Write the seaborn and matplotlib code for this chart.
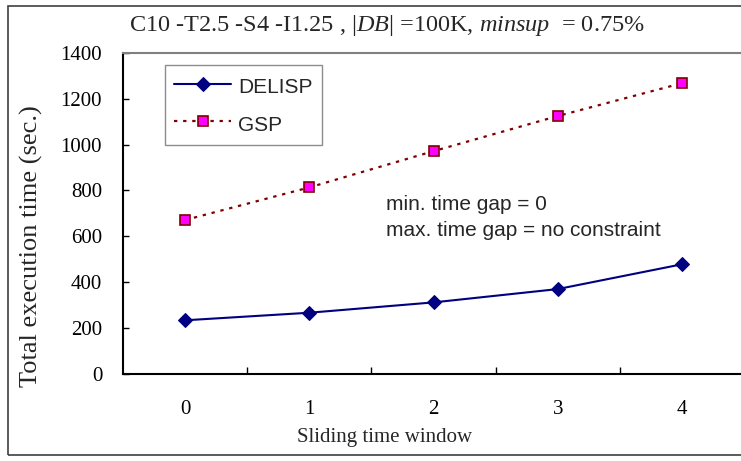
import matplotlib
matplotlib.use("Agg")
import matplotlib.pyplot as plt
from matplotlib.patches import Rectangle
import numpy as np
import pandas as pd
import seaborn as sns

# Execution time (sec.) versus sliding time window size
windows = [0, 1, 2, 3, 4]
delisp_time = [234, 267, 312, 370, 478]
gsp_time = [671, 813, 971, 1124, 1267]
y_ticks = [0, 200, 400, 600, 800, 1000, 1200, 1400]
x_tick_labels = ["0", "1", "2", "3", "4"]

sns.set_theme(style="white")
plt.rcParams["font.family"] = ["Liberation Serif", "DejaVu Serif"]
plt.rcParams["mathtext.fontset"] = "custom"
plt.rcParams["mathtext.rm"] = "Liberation Serif"
plt.rcParams["mathtext.it"] = "Liberation Serif:italic"

W, H = 741, 461
fig = plt.figure(figsize=(W / 100, H / 100), dpi=100)
fig.patch.set_facecolor("white")

# outer chart frame
fig.patches.append(Rectangle((8 / W, 6 / H), 1.2, (455 - 6) / H, transform=fig.transFigure,
                             fill=False, edgecolor="#404040", linewidth=1.2))

ax = fig.add_axes([123 / W, (H - 374) / H, 621 / W, (374 - 52.7) / H])

df = pd.DataFrame({
    "window": windows * 2,
    "time": delisp_time + gsp_time,
    "algo": ["DELISP"] * len(windows) + ["GSP"] * len(windows),
})

sns.lineplot(data=df[df["algo"] == "DELISP"], x="window", y="time", ax=ax,
             color="#000080", linewidth=1.5, marker="D", markersize=7,
             markerfacecolor="#000080", markeredgecolor="#000080", label="DELISP")
sns.lineplot(data=df[df["algo"] == "GSP"], x="window", y="time", ax=ax,
             color="#800000", linewidth=1.6, dashes=False, marker="s", markersize=7.5,
             markerfacecolor="#FF00FF", markeredgecolor="#800000", markeredgewidth=1.2,
             label="GSP")
ax.lines[1].set_linestyle((0, (1.5, 2.6)))

ax.set_xlim(-0.5, 4.5)
ax.set_ylim(0, 1400)
ax.set_yticks(y_ticks)
ax.set_yticklabels([str(v) for v in y_ticks])
ax.set_xticks(windows)
ax.set_xticklabels(x_tick_labels)
ax.set_xticks([0.5, 1.5, 2.5, 3.5], minor=True)
ax.tick_params(axis="x", which="major", length=0, pad=19, labelsize=15, colors="black")
ax.tick_params(axis="x", which="minor", direction="in", length=5, width=1, color="black",
               bottom=True)
ax.tick_params(axis="y", which="major", direction="in", length=4.5, width=1, pad=15,
               labelsize=15, colors="black", left=True)
ax.set_xlabel("")
ax.set_ylabel("")

for side in ("left", "bottom"):
    ax.spines[side].set_color("black")
    ax.spines[side].set_linewidth(1.5)
ax.spines["top"].set_color("#808080")
ax.spines["top"].set_linewidth(1.5)
ax.spines["right"].set_visible(False)
ax.grid(False)

leg = ax.legend(loc="upper left", bbox_to_anchor=((165 - 123) / 621, (374 - 65) / (374 - 52.7)),
                prop={"family": "Liberation Sans", "size": 15}, frameon=True, fancybox=False,
                edgecolor="#707070", handlelength=2.7, handleheight=1.35, handletextpad=0.35,
                labelspacing=0.68, borderpad=0.45, borderaxespad=0)
leg.get_frame().set_linewidth(1.0)

fig.text(384.5 / W, 1 - 437 / H, "Sliding time window", ha="center", va="center", fontsize=15)
fig.text(31 / W, 1 - 246 / H, "Total execution time (sec.)", ha="center", va="center",
         rotation=90, fontsize=19)
fig.text(387 / W, 1 - 26 / H,
         r"C$\mathit{10}$ -T2.5 -S$\mathit{4}$ -I$\mathit{1.25}$ , |$\mathit{DB}$| =100K, "
         r"$\mathit{minsup}$  = 0.75%",
         ha="center", va="center", fontsize=17.5)

fig.text(386 / W, 1 - 205 / H, "min. time gap = 0", ha="left", va="center",
         family="Liberation Sans", fontsize=15)
fig.text(386 / W, 1 - 230 / H, "max. time gap = no constraint", ha="left", va="center",
         family="Liberation Sans", fontsize=15)

fig.savefig("out.png", dpi=100, facecolor="white")
